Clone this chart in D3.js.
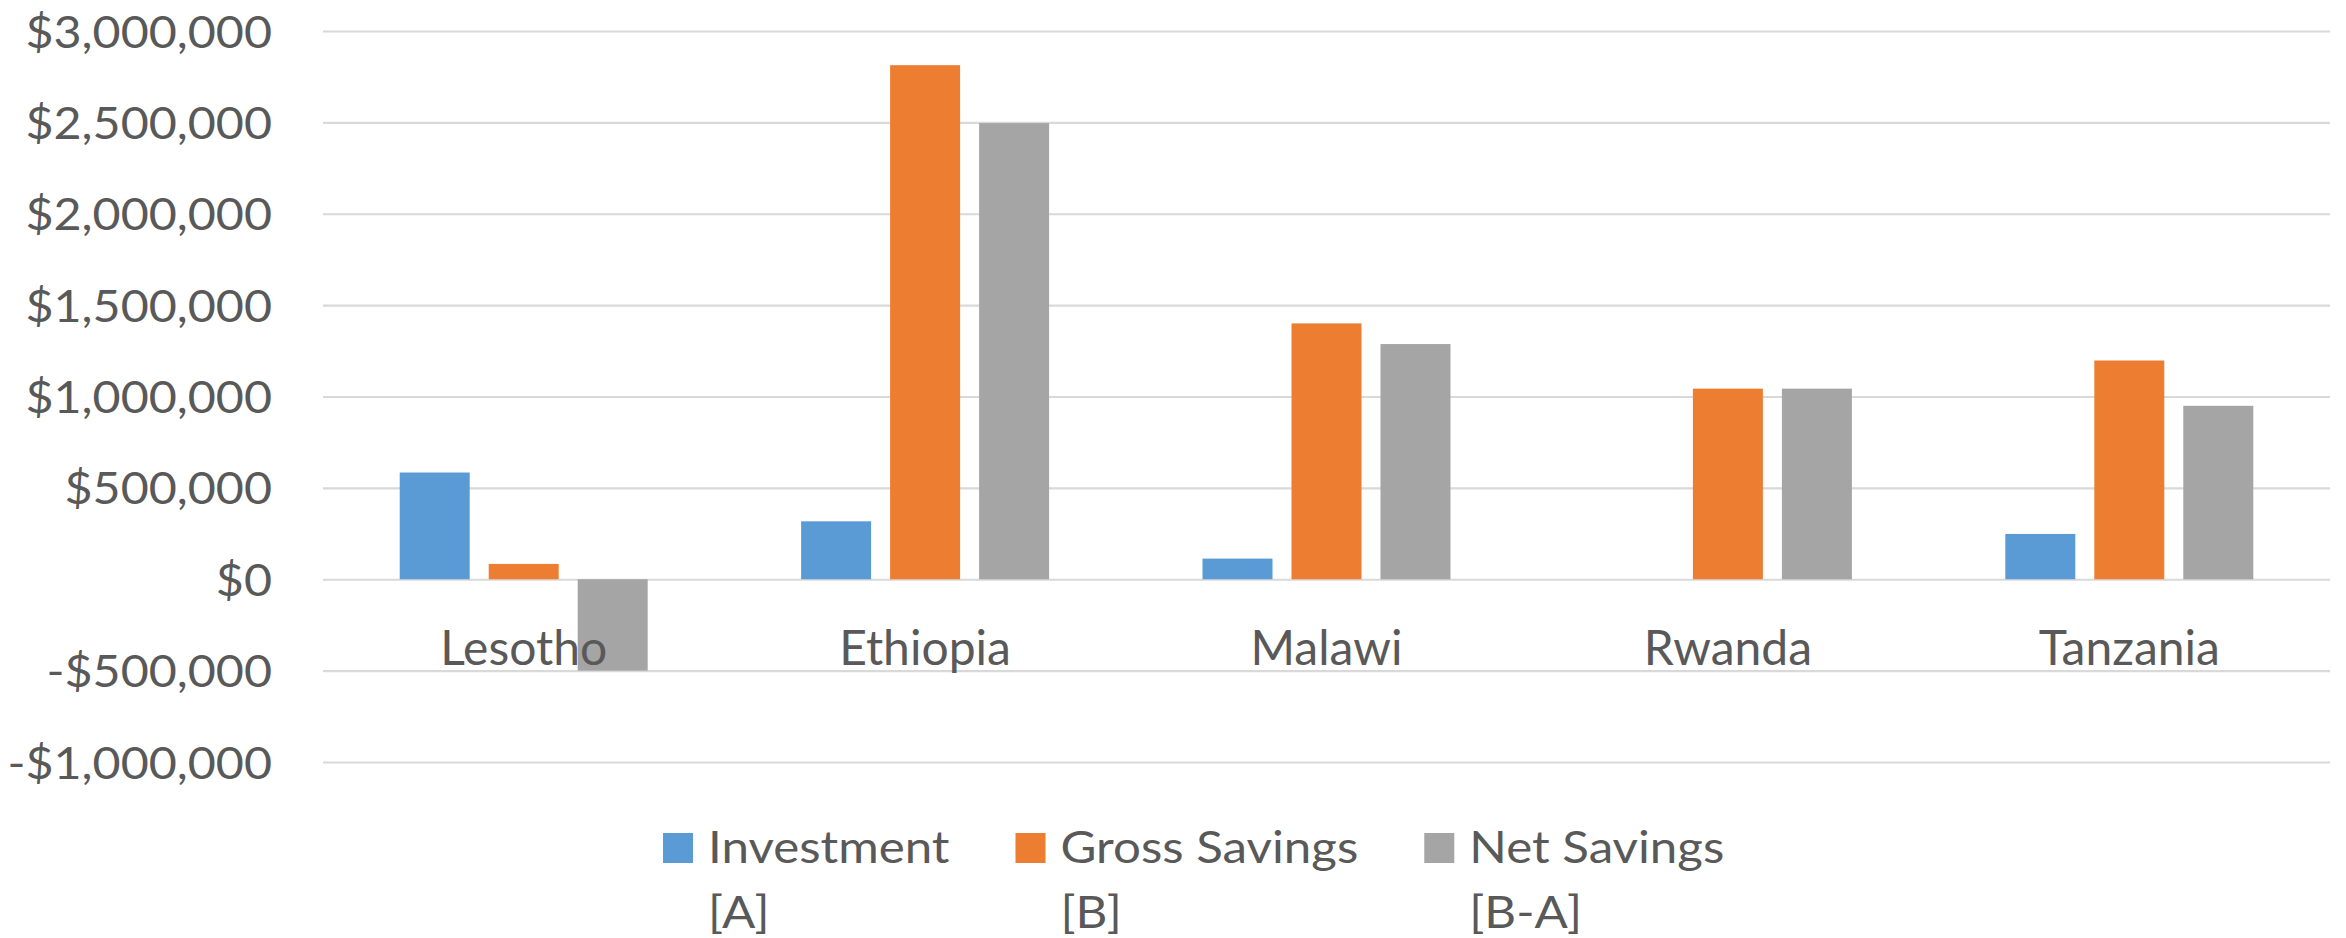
<!DOCTYPE html>
<html>
<head>
<meta charset="utf-8">
<script src="https://cdn.jsdelivr.net/npm/d3@7"></script>
<style>
  html, body { margin: 0; padding: 0; background: #ffffff; }
  svg { display: block; }
  text { font-family: Lato, "Open Sans", "Noto Sans", sans-serif; fill: #595959; }
</style>
</head>
<body>
<svg id="chart" width="2346" height="938"></svg>
<script>
// ---- data ----
const categories = ["Lesotho", "Ethiopia", "Malawi", "Rwanda", "Tanzania"];
const seriesNames = ["Investment", "Gross Savings", "Net Savings"];
const seriesSubLabels = ["[A]", "[B]", "[B-A]"];
const investment = [584000, 317000, 113000, 0, 248000];
const grossSavings = [84000, 2813000, 1400000, 1043000, 1197000];
const netSavings = [-500000, 2496000, 1287000, 1043000, 949000];
const tickValues = [-1000000, -500000, 0, 500000, 1000000, 1500000, 2000000, 2500000, 3000000];
const colors = ["#5b9bd5", "#ed7d31", "#a5a5a5"];

const seriesValues = [investment, grossSavings, netSavings];

// ---- layout ----
const svg = d3.select("#chart");
const plot = { left: 323, right: 2330, top: 31, bottom: 762 };
const catFont = 48, tickFont = 44, legFont = 44;
const tickStretch = 1.1, legStretch = 1.12;

const y = d3.scaleLinear().domain([-1000000, 3000000]).range([plot.bottom, plot.top]);
const x0 = d3.scaleBand().domain(categories).range([plot.left, plot.right]).paddingInner(0).paddingOuter(0);
const x1 = d3.scaleBand().domain(seriesNames).range([0, x0.bandwidth()]).paddingInner(0.2135).paddingOuter(0.862);

const fmt = v => (v < 0 ? "-$" : "$") + d3.format(",")(Math.abs(v));

// gridlines + tick labels via axis
const yAxis = d3.axisLeft(y).tickValues(tickValues).tickSize(-(plot.right - plot.left)).tickFormat(fmt).tickPadding(0);
const gAxis = svg.append("g").attr("transform", `translate(${plot.left},0)`).call(yAxis);
gAxis.select(".domain").remove();
gAxis.selectAll(".tick line").attr("stroke", "#d9d9d9").attr("stroke-width", 2.2);
gAxis.selectAll(".tick text")
  .attr("font-size", tickFont)
  .attr("font-family", "Lato, 'Open Sans', sans-serif")
  .attr("fill", "#595959")
  .attr("dy", null)
  .attr("x", 0)
  .attr("y", 16)
  .attr("transform", `translate(-51,0) scale(${tickStretch},1)`);

// bars
const rows = categories.map((c, i) => ({ cat: c, vals: seriesNames.map((s, j) => ({ s, j, v: seriesValues[j][i] })) }));
const gGroups = svg.append("g").selectAll("g").data(rows).join("g")
  .attr("transform", d => `translate(${x0(d.cat)},0)`);
gGroups.selectAll("rect").data(d => d.vals).join("rect")
  .attr("x", d => x1(d.s))
  .attr("width", x1.bandwidth())
  .attr("y", d => y(Math.max(0, d.v)))
  .attr("height", d => Math.abs(y(d.v) - y(0)))
  .attr("fill", d => colors[d.j]);

// category labels (drawn over bars)
svg.append("g").selectAll("text").data(categories).join("text")
  .attr("x", d => x0(d) + x0.bandwidth() / 2)
  .attr("y", 665)
  .attr("text-anchor", "middle")
  .attr("font-size", catFont)
  .text(d => d);

// legend
const legend = svg.append("g");
const items = legend.selectAll("g").data(seriesNames).join("g");
items.append("rect").attr("x", 0).attr("y", 833).attr("width", 30).attr("height", 30)
  .attr("fill", (d, i) => colors[i]);
const t = items.append("text").attr("transform", `translate(45,0) scale(${legStretch},1)`).attr("font-size", legFont);
t.append("tspan").attr("x", 0).attr("y", 863).text(d => d);
t.append("tspan").attr("x", 0).attr("y", 928).text((d, i) => seriesSubLabels[i]);
const widths = [];
items.each(function() { widths.push(d3.select(this).select("tspan").node().getComputedTextLength() * legStretch); });
const gap = 66;
let cx = 663;
items.attr("transform", (d, i) => { const tx = cx; cx += 45 + widths[i] + gap; return `translate(${tx},0)`; });
</script>
</body>
</html>
